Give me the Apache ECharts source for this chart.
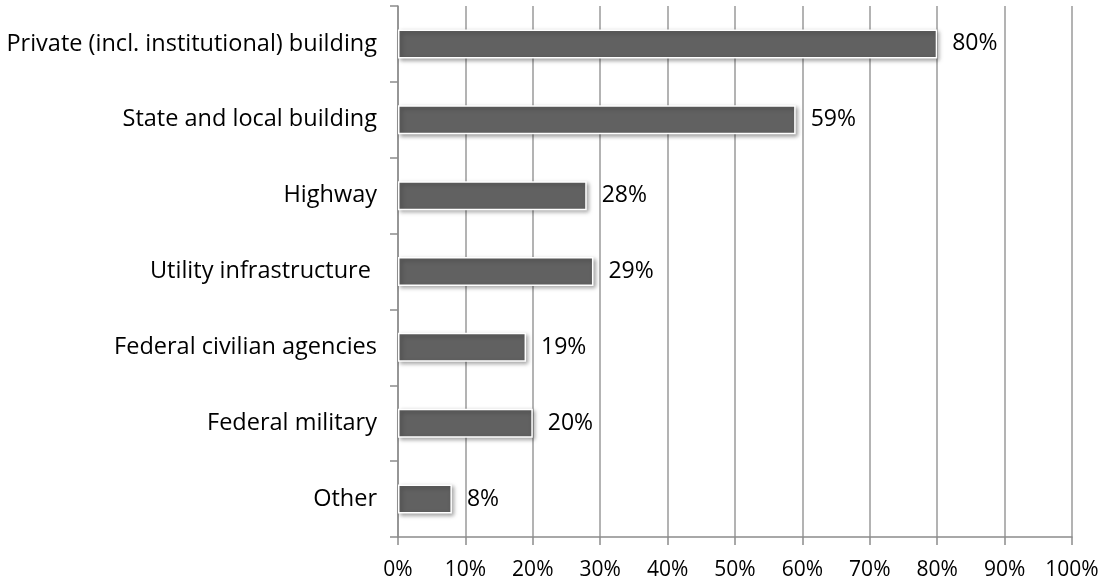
<!DOCTYPE html>
<html lang="en">
<head>
    <meta charset="UTF-8">
    <title>Building categories</title>
    <script src="https://cdn.jsdelivr.net/npm/echarts@6/dist/echarts.min.js"></script>
</head>
<body style="margin:0;background:#fff;">
<div id="main" style="width:1102px;height:584px;"></div>
<script>
    var categories = ['Private (incl. institutional) building', 'State and local building', 'Highway',
        'Utility infrastructure ', 'Federal civilian agencies', 'Federal military', 'Other'];
    var values = [80, 59, 28, 29, 19, 20, 8];
    var xTicks = [0, 10, 20, 30, 40, 50, 60, 70, 80, 90, 100];

    var myChart = echarts.init(document.getElementById('main'));
    var font = '"Open Sans", sans-serif';
    var option = {
        animation: false,
        grid: {left: 398, right: 30, top: 6, bottom: 47},
        xAxis: {
            type: 'value',
            min: xTicks[0],
            max: xTicks[xTicks.length - 1],
            interval: 10,
            axisLine: {show: true, lineStyle: {color: '#8c8c8c', width: 1.5}},
            axisTick: {show: true, length: 8, lineStyle: {color: '#8c8c8c', width: 1.5}},
            axisLabel: {formatter: '{value}%', color: '#000', fontSize: 21, fontFamily: font, margin: 23},
            splitLine: {show: true, lineStyle: {color: '#9a9a9a', width: 1.5}}
        },
        yAxis: {
            type: 'category',
            inverse: true,
            data: categories,
            axisLine: {show: true, lineStyle: {color: '#8c8c8c', width: 1.5}},
            axisTick: {show: true, length: 8, lineStyle: {color: '#8c8c8c', width: 1.5}},
            axisLabel: {color: '#000', fontSize: 23.5, fontFamily: font, margin: 21}
        },
        series: [{
            type: 'bar',
            data: values,
            barWidth: 29,
            itemStyle: {
                color: '#616161',
                borderColor: '#fff',
                borderWidth: 1.5,
                shadowColor: 'rgba(0,0,0,0.35)',
                shadowBlur: 4,
                shadowOffsetX: 2,
                shadowOffsetY: 2
            },
            label: {
                show: true,
                position: 'right',
                distance: 15,
                formatter: '{c}%',
                color: '#000',
                fontSize: 23,
                fontFamily: font
            }
        }]
    };
    myChart.setOption(option);
</script>
</body>
</html>
